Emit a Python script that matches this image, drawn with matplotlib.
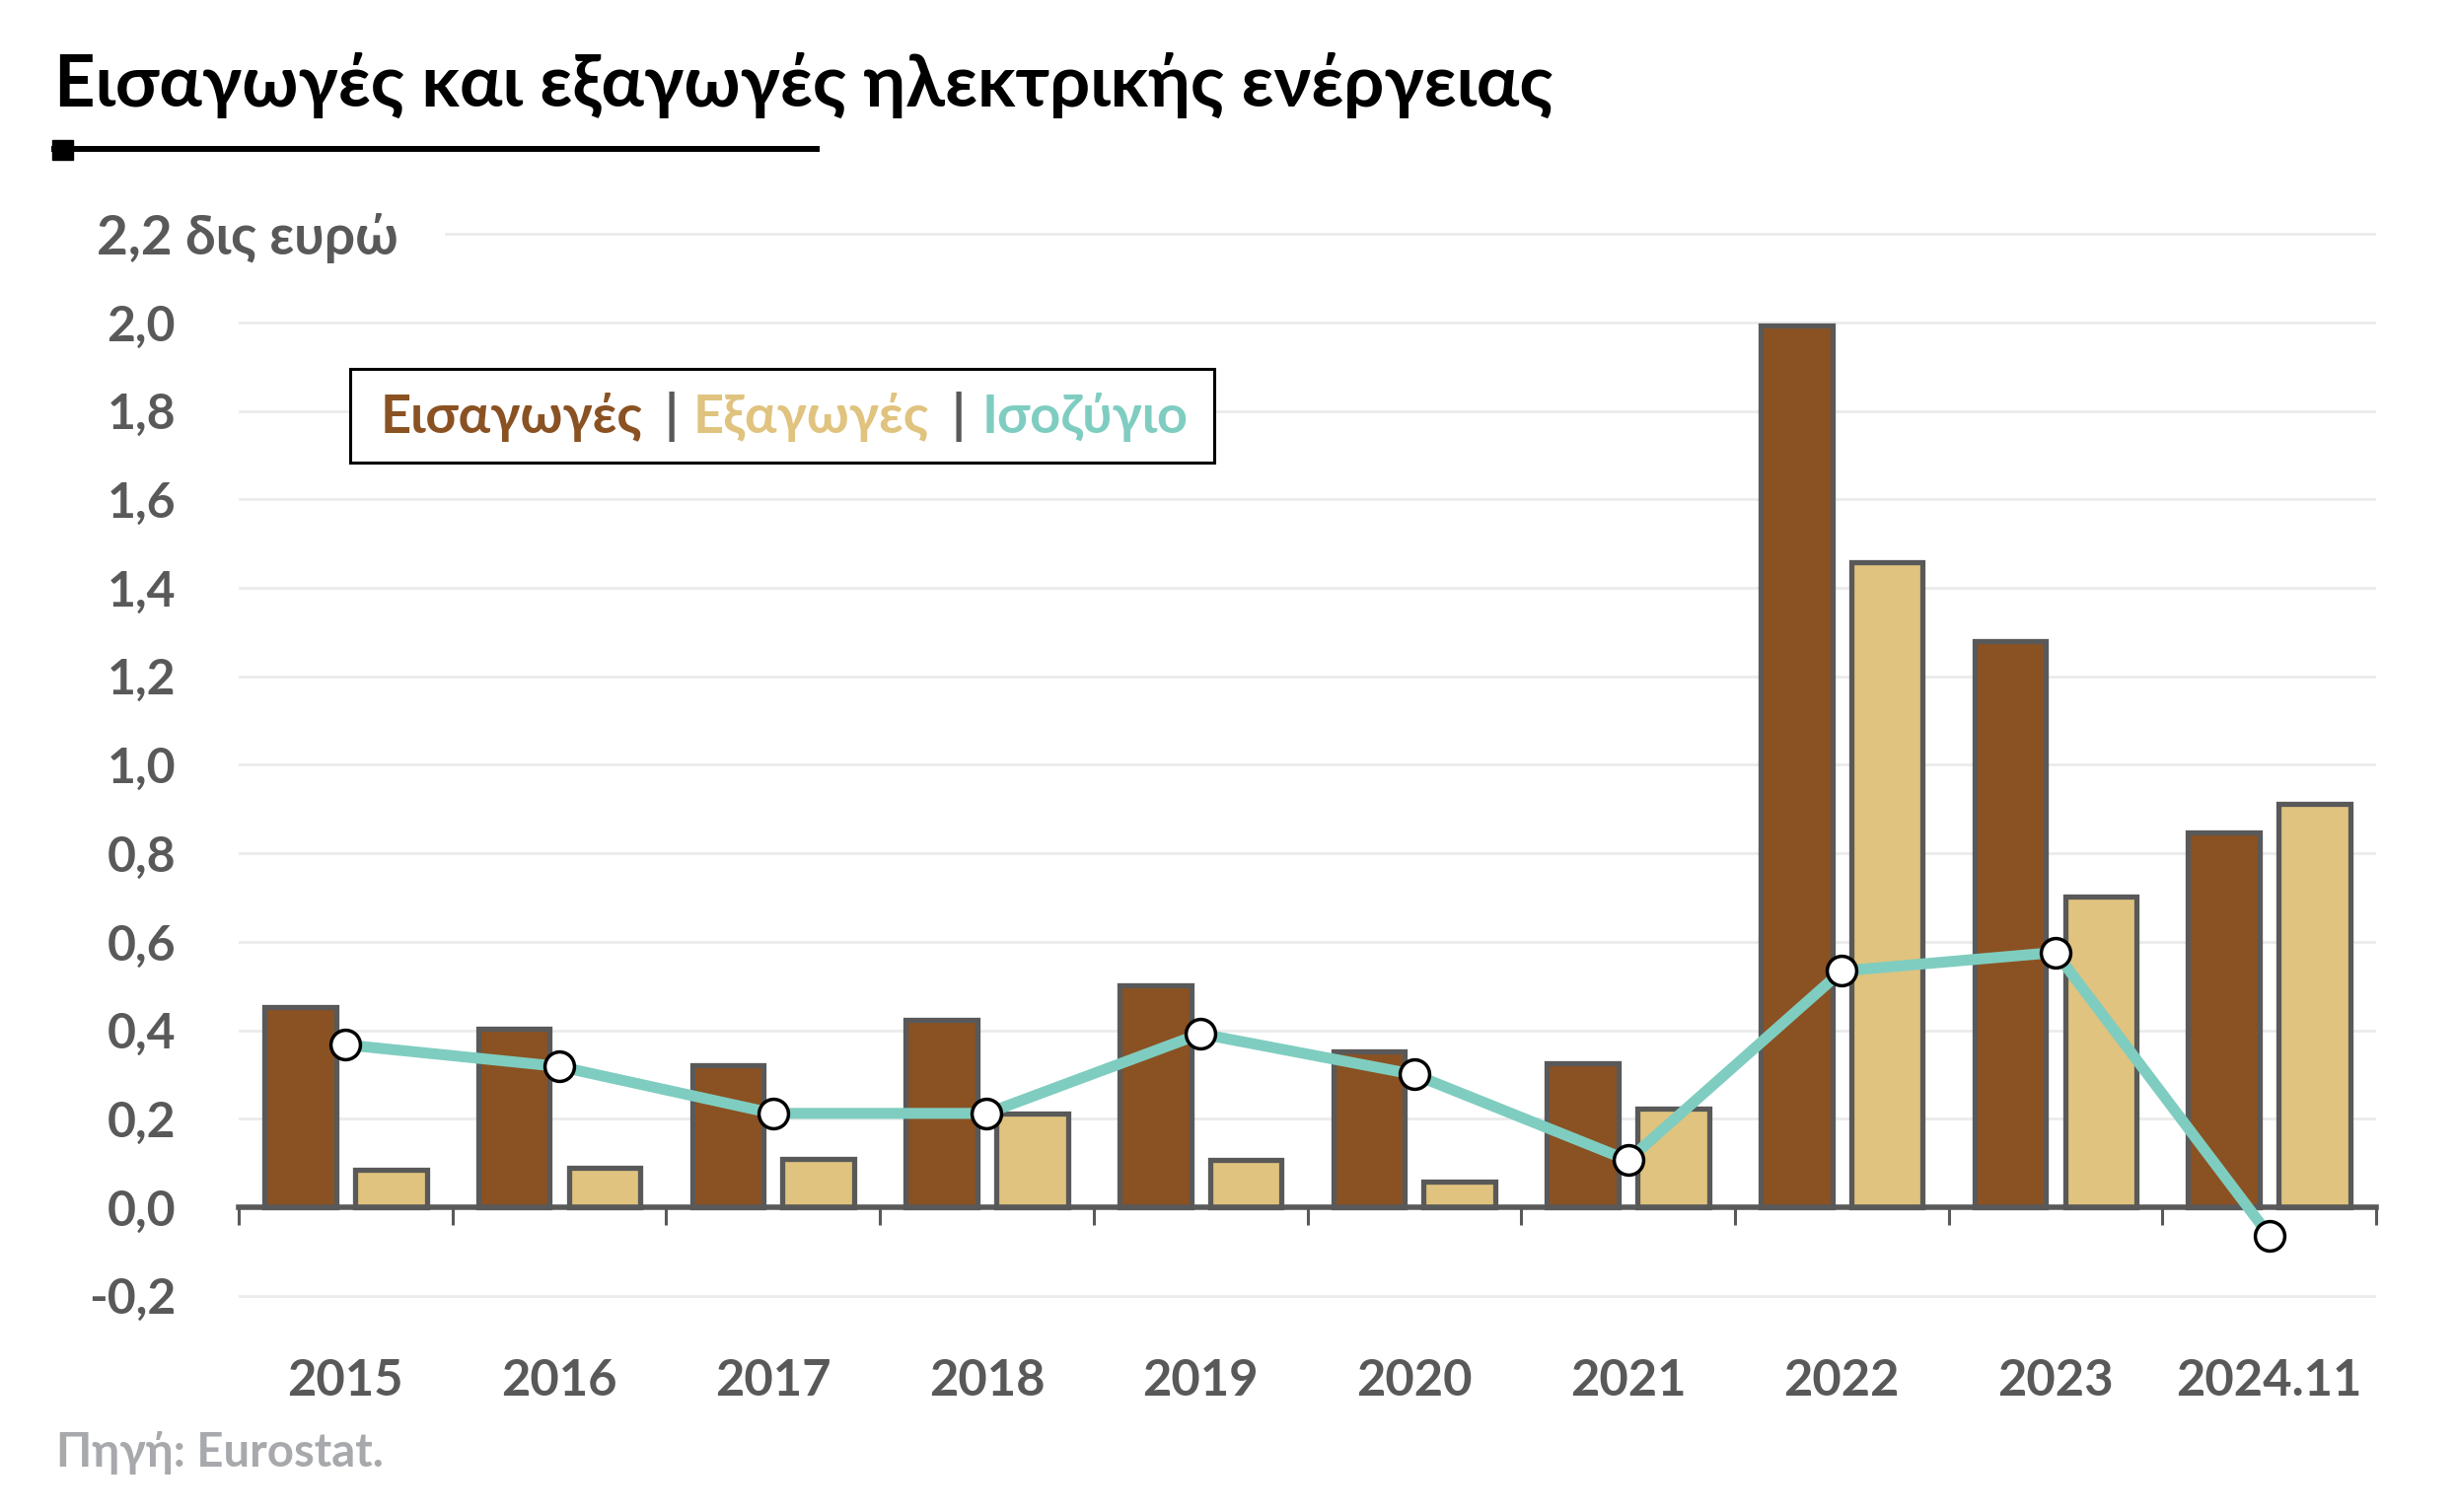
import matplotlib
matplotlib.use("Agg")
import matplotlib.pyplot as plt
import matplotlib.transforms as mtransforms
from matplotlib.patches import Rectangle
from matplotlib.lines import Line2D
import numpy as np

plt.rcParams['font.family'] = ['Lato', 'DejaVu Sans']
plt.rcParams['font.weight'] = 'bold'

# data (δις ευρώ)
years = ["2015", "2016", "2017", "2018", "2019", "2020", "2021", "2022", "2023", "2024.11"]
imports = [0.452, 0.403, 0.322, 0.424, 0.502, 0.353, 0.325, 1.993, 1.279, 0.848]
exports = [0.085, 0.088, 0.110, 0.212, 0.106, 0.057, 0.223, 1.459, 0.703, 0.912]
balance = [0.367, 0.318, 0.212, 0.212, 0.392, 0.300, 0.106, 0.534, 0.576, -0.064]
yticks = [-0.2, 0.0, 0.2, 0.4, 0.6, 0.8, 1.0, 1.2, 1.4, 1.6, 1.8, 2.0]

c_imp = '#8A5223'
c_exp = '#E0C37E'
c_bal = '#7FCDC0'
c_edge = '#595959'
c_grid = '#EBEBEB'
wt = 'bold'

W, H = 2490, 1533
fig = plt.figure(figsize=(W / 100, H / 100), dpi=100)
fig.patch.set_facecolor('white')

def fx(px):
    return px / W

def fy(py):
    return 1 - py / H

ax = fig.add_axes([fx(242), fy(1336), fx(2409) - fx(242), fy(215) - fy(1336)])
ax.set_xlim(-0.5, len(years) - 0.5)
ax.set_ylim(-0.25, 2.25)

x = np.arange(len(years))
bw = 0.335
off = 0.212

# grid lines
for t in yticks:
    ax.axhline(t, color=c_grid, lw=2, zorder=0)
ax.axhline(2.2, xmin=0.097, xmax=1, color=c_grid, lw=2, zorder=0)

ax.bar(x - off, imports, bw, color=c_imp, edgecolor=c_edge, linewidth=3.8, zorder=2)
ax.bar(x + off, exports, bw, color=c_exp, edgecolor=c_edge, linewidth=3.8, zorder=2)

ax.plot(x, balance, color=c_bal, lw=8, zorder=4, solid_capstyle='butt')
ax.plot(x, balance, 'o', ms=21.5, mfc='white', mec='black', mew=2.5, zorder=5)

# axes styling
for s in ['left', 'top', 'right']:
    ax.spines[s].set_visible(False)
ax.spines['bottom'].set_position(('data', 0))
ax.spines['bottom'].set_color(c_edge)
ax.spines['bottom'].set_linewidth(4)
ax.spines['bottom'].set_zorder(3)
ax.set_xticks(np.arange(-0.5, len(years), 1.0))
ax.set_xticklabels([])
ax.tick_params(axis='x', length=13, width=2.2, color=c_edge, direction='out')

ax.set_yticks(yticks)
ax.set_yticklabels([f"{t:.1f}".replace('.', ',') for t in yticks])
ax.tick_params(axis='y', length=0, pad=46, labelsize=36, labelcolor=c_edge)
for lab in ax.get_yticklabels():
    lab.set_fontweight(wt)

for i, yr in enumerate(years):
    ax.text(i, -0.426, yr, ha='center', va='baseline', fontsize=36.5,
            fontweight=wt, color=c_edge, clip_on=False)

trans = mtransforms.blended_transform_factory(fig.transFigure, ax.transData)
ax.text(fx(98), 2.2, "2,2 δις ευρώ", transform=trans, ha='left', va='center_baseline',
        fontsize=39.5, fontweight=wt, color=c_edge)

# title
fig.text(fx(55), fy(108), "Εισαγωγές και εξαγωγές ηλεκτρικής ενέργειας",
         fontsize=52, fontweight=wt, color='black', va='baseline', ha='left')
fig.add_artist(Line2D([fx(55), fx(828)], [fy(151), fy(151)], color='black', lw=4.3,
                      transform=fig.transFigure))
fig.add_artist(Rectangle((fx(53), fy(162)), fx(21), 20 / H, color='black',
                         transform=fig.transFigure))

# legend box
fig.add_artist(Rectangle((fx(355), fy(469)), fx(1231) - fx(355), fy(374) - fy(469),
                         facecolor='white', edgecolor='black', lw=2.2,
                         transform=fig.transFigure, zorder=6))
leg_items = [(386, "Εισαγωγές", c_imp, 'left'), (681, "|", c_edge, 'center'),
             (703, "Εξαγωγές", c_exp, 'left'), (972, "|", c_edge, 'center'),
             (996, "Ισοζύγιο", c_bal, 'left')]
for px, txt, col, ha in leg_items:
    fig.text(fx(px), fy(439), txt, fontsize=39, fontweight=wt, color=col,
             ha=ha, va='baseline', zorder=7)

# source
fig.text(fx(57), fy(1487), "Πηγή: Eurostat.", fontsize=34, fontweight=wt,
         color='#A7A9AC', ha='left', va='baseline')

fig.savefig("out.png", dpi=100, facecolor='white')
